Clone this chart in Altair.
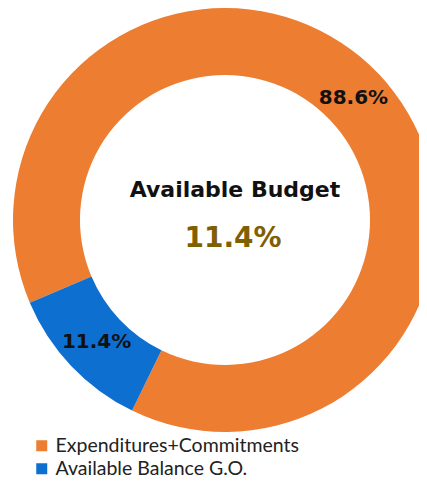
import math
import altair as alt
import pandas as pd

categories = ["Expenditures+Commitments", "Available Balance G.O."]
values = [88.6, 11.4]
labels = ["88.6%", "11.4%"]
colors = ["#ED7D31", "#0D6FD0"]
center_title = "Available Budget"
center_value = "11.4%"

df = pd.DataFrame({"category": categories, "value": values, "label": labels})

start = math.radians(206)
theta_scale = alt.Scale(domain=[0, 100], range=[start, start + 2 * math.pi])
order = alt.Order("category:N", sort="ascending")

CX, CY = 217, 212

base = alt.Chart(df).encode(
    theta=alt.Theta("value:Q", stack=True, scale=theta_scale),
    order=order,
)

arc = base.mark_arc(outerRadius=212, innerRadius=145).encode(
    x=alt.value(CX),
    y=alt.value(CY),
    color=alt.Color(
        "category:N",
        scale=alt.Scale(domain=categories, range=colors),
        legend=alt.Legend(
            title=None,
            orient="none",
            legendX=24,
            legendY=428,
            symbolType="square",
            symbolSize=121,
            symbolStrokeWidth=0,
            labelFont="Lato",
            labelFontSize=19.5,
            labelColor="#222222",
            labelOffset=4,
            rowPadding=2,
            labelLimit=400,
        ),
    ),
)

txt = base.mark_text(
    radius=177, font="DejaVu Sans", fontWeight="bold", fontSize=20, color="#111111"
).encode(x=alt.value(CX), y=alt.value(CY), text="label:N")

center1 = alt.Chart(pd.DataFrame({"t": [center_title]})).mark_text(
    font="DejaVu Sans", fontWeight="bold", fontSize=22, color="#111111", baseline="alphabetic"
).encode(x=alt.value(227), y=alt.value(189), text="t:N")

center2 = alt.Chart(pd.DataFrame({"t": [center_value]})).mark_text(
    font="DejaVu Sans", fontWeight="bold", fontSize=28, color="#7F6000", baseline="alphabetic"
).encode(x=alt.value(225), y=alt.value(239), text="t:N")

chart = (
    alt.layer(arc, txt, center1, center2)
    .properties(width=411, height=471, autosize=alt.AutoSizeParams(type="none"), padding=0)
    .configure_view(stroke=None)
)

chart.save("out.html", embed_options={"renderer": "svg", "actions": False})
